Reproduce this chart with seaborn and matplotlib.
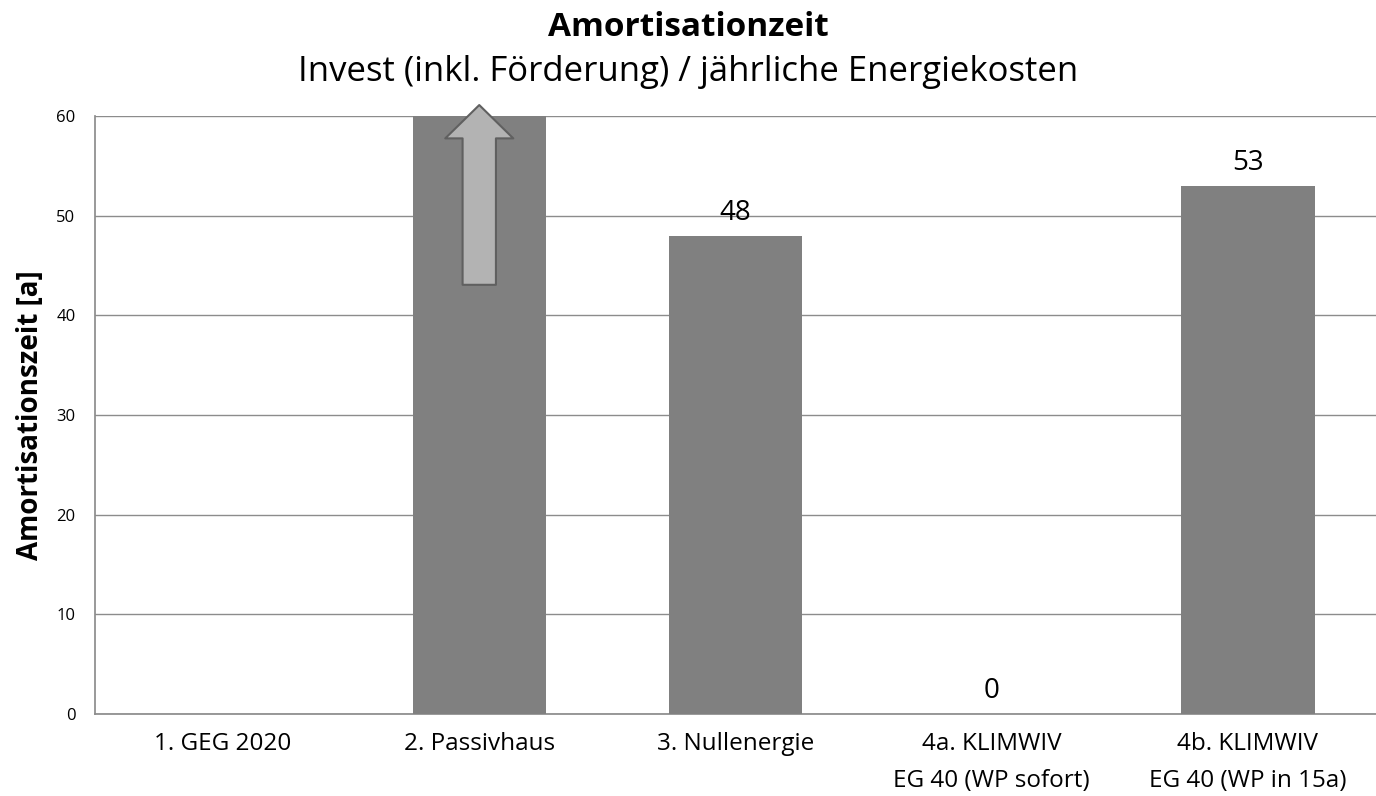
import numpy as np
import pandas as pd
import matplotlib.pyplot as plt
import seaborn as sns

# Werte
kategorien = ["1. GEG 2020", "2. Passivhaus", "3. Nullenergie",
              "4a. KLIMWIV\nEG 40 (WP sofort)", "4b. KLIMWIV\nEG 40 (WP in 15a)"]
amortisation = [np.nan, 95, 48, 0, 53]   # Passivhaus liegt ausserhalb der Skala
y_ticks = [0, 10, 20, 30, 40, 50, 60]

sns.set_theme(style="white")
plt.rcParams['font.family'] = ['Open Sans', 'DejaVu Sans']
plt.rcParams['text.color'] = 'black'

df = pd.DataFrame({"kategorie": kategorien, "wert": amortisation})

fig = plt.figure(figsize=(13.76, 7.96), dpi=100)
ax = fig.add_axes([0.069, 0.103, 0.931, 0.751])

sns.barplot(data=df, x="kategorie", y="wert", color="#808080", saturation=1,
            width=0.52, linewidth=0, ax=ax, zorder=3)

ax.set_ylim(0, 60)
ax.set_yticks(y_ticks)
ax.yaxis.grid(True, color="#8c8c8c", linewidth=1)
ax.set_axisbelow(True)
for s in ["top", "right"]:
    ax.spines[s].set_visible(False)
for s in ["left", "bottom"]:
    ax.spines[s].set_color("#8c8c8c")
ax.tick_params(axis="y", labelsize=12, labelcolor="black", length=0, pad=14)
ax.tick_params(axis="x", labelsize=17.5, labelcolor="black", length=0, pad=13)
for lbl in ax.get_xticklabels():
    lbl.set_linespacing(1.7)

# Wertbeschriftungen (nur innerhalb der Skala)
for i, v in enumerate(amortisation):
    if not np.isnan(v) and v <= 60:
        ax.text(i, v + 0.9, f"{v:.0f}", ha="center", va="bottom", fontsize=20, zorder=4)

# Pfeil: Wert ausserhalb des Bereichs
ax.annotate("", xy=(1.0, 61.4), xytext=(1.0, 42.8), annotation_clip=False,
            arrowprops=dict(arrowstyle="simple,head_length=24,head_width=49,tail_width=24",
                            mutation_scale=1, fc="#b3b3b3", ec="#606060", lw=1.5),
            zorder=5)

ax.set_xlabel("")
ax.set_ylabel("Amortisationszeit [a]", fontsize=20, fontweight="bold",
              color="black", labelpad=8)

fig.text(0.5, 0.966, "Amortisationzeit", ha="center", va="center",
         fontsize=24, fontweight="bold")
fig.text(0.5, 0.909, "Invest (inkl. Förderung) / jährliche Energiekosten",
         ha="center", va="center", fontsize=25)

fig.savefig("out.png", dpi=100)
